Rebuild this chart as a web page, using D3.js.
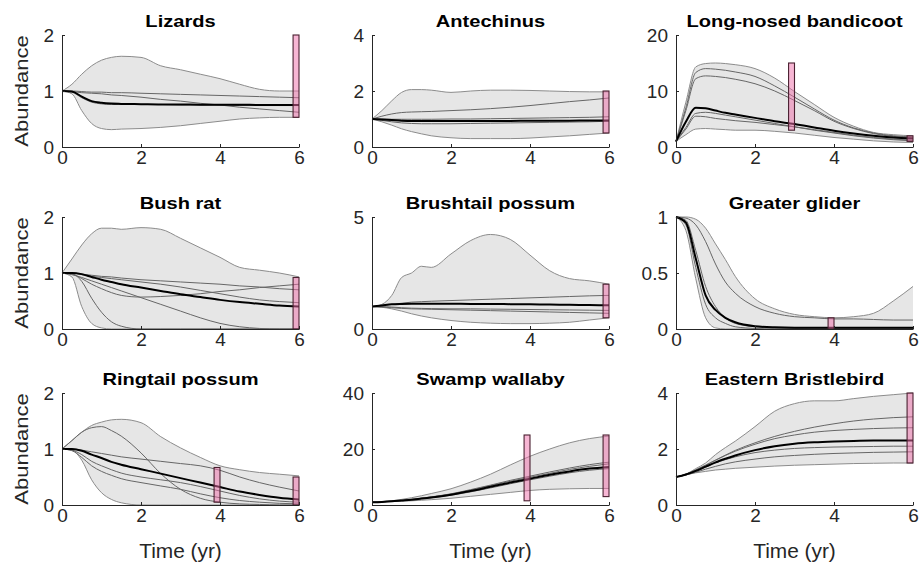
<!DOCTYPE html>
<html><head><meta charset="utf-8">
<script src="https://cdn.jsdelivr.net/npm/d3@7"></script>
<style>
body{margin:0;background:#fff}
svg text{font-family:"Liberation Sans",Arial,Helvetica,sans-serif}
</style>
</head><body><svg id="chart" width="919" height="565"></svg>
<script>
// ---------------- DATA ----------------
const years = [0, 0.25, 0.5, 0.75, 1, 1.25, 1.5, 2, 2.5, 3, 3.5, 4, 4.5, 5, 5.5, 6];
const panelTitles = ["Lizards","Antechinus","Long-nosed bandicoot","Bush rat","Brushtail possum","Greater glider","Ringtail possum","Swamp wallaby","Eastern Bristlebird"];
const yMaxima = [2, 4, 20, 2, 5, 1, 2, 40, 4];
const yTickValues = [[0,1,2],[0,2,4],[0,10,20],[0,1,2],[0,5],[0,0.5,1],[0,1,2],[0,20,40],[0,2,4]];
const xTickValues = [0, 2, 4, 6];
const yLabel = "Abundance";
const xLabel = "Time (yr)";

// Lizards
const lizUpper = [1,1.12,1.3,1.45,1.55,1.6,1.62,1.6,1.45,1.38,1.3,1.22,1.12,1.03,1.0,1.0];
const lizLower = [1,0.95,0.65,0.42,0.33,0.31,0.32,0.33,0.35,0.38,0.42,0.46,0.5,0.52,0.53,0.53];
const lizMean  = [1,0.99,0.9,0.82,0.79,0.775,0.77,0.765,0.76,0.76,0.755,0.755,0.755,0.75,0.75,0.75];
const lizRuns = [
  [1,1.0,0.99,0.98,0.98,0.97,0.97,0.96,0.95,0.94,0.93,0.92,0.91,0.9,0.89,0.88],
  [1,0.99,0.97,0.96,0.95,0.93,0.92,0.89,0.85,0.82,0.78,0.75,0.71,0.68,0.65,0.62],
  [1,0.98,0.88,0.8,0.77,0.76,0.76,0.76,0.76,0.75,0.75,0.75,0.74,0.74,0.74,0.74]
];
const lizBars = [[6, 0.53, 2.0]];

// Antechinus
const antUpper = [1,1.3,1.65,1.95,2.05,2.05,2.03,1.95,2.0,2.03,2.03,2.02,2.0,1.98,1.97,1.97];
const antLower = [1,0.9,0.78,0.65,0.55,0.47,0.4,0.33,0.3,0.3,0.3,0.32,0.36,0.4,0.45,0.5];
const antMean  = [1,0.98,0.96,0.94,0.93,0.93,0.93,0.93,0.93,0.93,0.93,0.94,0.94,0.94,0.95,0.95];
const antRuns = [
  [1,1.1,1.18,1.23,1.25,1.26,1.27,1.3,1.33,1.37,1.42,1.48,1.55,1.62,1.68,1.75],
  [1,0.95,0.9,0.86,0.84,0.83,0.83,0.83,0.84,0.85,0.86,0.87,0.88,0.89,0.9,0.92],
  [1,1.0,0.99,0.99,0.99,0.99,0.99,1.0,1.0,1.01,1.02,1.03,1.04,1.05,1.06,1.08]
];
const antBars = [[6, 0.5, 2.0]];

// Long-nosed bandicoot
const banUpper = [1,8,14.3,14.9,15,14.9,14.7,14.0,12.3,9.9,7.6,5.3,3.7,2.6,2.2,2.0];
const banLower = [1,2.2,3.2,3.3,3.2,3.1,3.0,3.0,2.8,2.5,2.1,1.7,1.4,1.1,0.9,0.8];
const banMean  = [1,4.5,7.0,6.9,6.5,6.1,5.8,5.2,4.6,4.1,3.5,2.9,2.4,2.0,1.7,1.5];
const banRuns = [
  [1,7,13.3,14.0,13.9,13.7,13.4,12.6,10.9,8.9,6.8,4.8,3.4,2.5,2.0,1.8],
  [1,6.5,12.2,12.7,12.6,12.4,12.1,11.3,10.0,8.3,6.5,4.6,3.3,2.4,1.9,1.7],
  [1,3.5,6.0,6.2,6.0,5.7,5.4,4.8,4.2,3.6,3.0,2.5,2.0,1.6,1.3,1.1],
  [1,3.2,5.5,5.4,5.1,4.9,4.7,4.4,4.0,3.6,3.1,2.6,2.1,1.7,1.4,1.2]
];
const banBars = [[3, 3, 15], [6, 1, 2]];

// Bush rat
const ratUpper = [1,1.25,1.5,1.7,1.8,1.8,1.78,1.81,1.78,1.62,1.45,1.28,1.1,1.05,1.0,0.93];
const ratLower = [1,0.93,0.4,0.1,0.02,0,0,0,0,0,0,0,0,0,0,0];
const ratMean  = [1,1.0,0.98,0.93,0.88,0.84,0.8,0.74,0.68,0.62,0.57,0.52,0.48,0.45,0.42,0.4];
const ratRuns = [
  [1,0.99,0.85,0.55,0.3,0.13,0.05,0,0,0,0,0,0,0,0,0],
  [1,0.98,0.9,0.8,0.72,0.65,0.6,0.57,0.58,0.6,0.63,0.67,0.7,0.74,0.77,0.8],
  [1,0.97,0.92,0.86,0.8,0.74,0.68,0.56,0.44,0.32,0.2,0.1,0.04,0.01,0,0],
  [1,1.0,0.98,0.96,0.94,0.93,0.91,0.88,0.86,0.84,0.82,0.8,0.77,0.75,0.72,0.7],
  [1,1.0,0.97,0.94,0.92,0.9,0.88,0.84,0.8,0.75,0.69,0.63,0.57,0.52,0.49,0.47]
];
const ratBars = [[6, 0, 0.92]];

// Brushtail possum
const bruUpper = [1,1.1,1.5,2.3,2.5,2.8,2.75,3.35,3.95,4.22,4.0,3.3,2.6,2.25,2.15,2.0];
const bruLower = [1,0.97,0.9,0.8,0.68,0.58,0.5,0.38,0.3,0.26,0.24,0.24,0.26,0.3,0.4,0.5];
const bruMean  = [1,1.05,1.1,1.12,1.13,1.13,1.13,1.13,1.12,1.12,1.11,1.1,1.09,1.08,1.07,1.06];
const bruRuns = [
  [1,1.05,1.1,1.15,1.2,1.22,1.24,1.27,1.3,1.33,1.36,1.39,1.42,1.45,1.48,1.5],
  [1,0.98,0.95,0.92,0.9,0.89,0.88,0.86,0.84,0.82,0.8,0.78,0.76,0.74,0.72,0.7],
  [1,1.0,0.98,0.95,0.93,0.92,0.91,0.9,0.9,0.89,0.88,0.87,0.86,0.85,0.84,0.83]
];
const bruBars = [[6, 0.5, 2.0]];

// Greater glider
const gliUpper = [1,1.0,0.98,0.9,0.76,0.62,0.47,0.27,0.18,0.13,0.11,0.1,0.11,0.14,0.25,0.38];
const gliLower = [1,0.88,0.45,0.1,0.01,0,0,0,0,0,0,0,0,0,0,0];
const gliMean  = [1,0.95,0.63,0.3,0.17,0.1,0.06,0.025,0.015,0.012,0.012,0.012,0.012,0.012,0.012,0.012];
const gliRuns = [
  [1,0.99,0.93,0.78,0.58,0.42,0.32,0.2,0.14,0.11,0.1,0.09,0.09,0.085,0.08,0.08],
  [1,0.93,0.55,0.22,0.1,0.05,0.02,0.005,0,0,0,0,0,0,0,0],
  [1,0.97,0.7,0.38,0.2,0.1,0.05,0.02,0.01,0.005,0,0,0,0,0,0]
];
const gliBars = [[4, 0, 0.1]];

// Ringtail possum
const rinUpper = [1,1.15,1.3,1.42,1.48,1.52,1.53,1.47,1.22,1.02,0.85,0.7,0.63,0.58,0.55,0.52];
const rinLower = [1,0.98,0.8,0.45,0.22,0.1,0.04,0,0,0,0,0,0,0,0,0];
const rinMean  = [1,1.0,0.97,0.9,0.84,0.77,0.72,0.64,0.56,0.48,0.4,0.32,0.24,0.18,0.13,0.1];
const rinRuns = [
  [1,1.15,1.3,1.38,1.4,1.33,1.23,0.93,0.56,0.28,0.12,0.05,0.02,0.01,0,0],
  [1,1.0,0.98,0.95,0.92,0.89,0.86,0.82,0.78,0.74,0.7,0.62,0.5,0.4,0.32,0.25],
  [1,0.98,0.9,0.78,0.7,0.63,0.57,0.5,0.45,0.4,0.33,0.25,0.17,0.11,0.07,0.05],
  [1,0.97,0.85,0.7,0.6,0.53,0.47,0.4,0.34,0.28,0.2,0.13,0.08,0.05,0.03,0.02]
];
const rinBars = [[4, 0.05, 0.67], [6, 0, 0.5]];

// Swamp wallaby
const walUpper = [1,1.2,1.5,2.0,2.6,3.3,4.1,5.8,8.2,11.0,14.3,17.4,20.0,22.2,23.7,24.6];
const walLower = [1,1.1,1.2,1.35,1.5,1.7,1.9,2.4,3.1,3.8,4.5,5.2,5.6,5.8,5.9,5.9];
const walMean  = [1,1.1,1.3,1.6,1.9,2.3,2.7,3.7,5.0,6.5,8.0,9.4,10.8,12.0,13.0,13.6];
const walRuns = [
  [1,1.1,1.35,1.65,2.0,2.4,2.9,4.0,5.5,7.1,8.8,10.3,11.8,13.2,14.4,15.3],
  [1,1.1,1.35,1.65,2.0,2.4,2.85,3.9,5.3,6.9,8.5,9.9,11.3,12.7,13.8,14.7],
  [1,1.1,1.3,1.55,1.85,2.2,2.6,3.5,4.7,6.1,7.6,9.0,10.3,11.5,12.4,13.0]
];
const walBars = [[4, 1.5, 25], [6, 3, 25]];

// Eastern Bristlebird
const briUpper = [1,1.1,1.3,1.5,1.8,2.05,2.28,2.8,3.35,3.62,3.72,3.72,3.8,3.88,3.94,4.0];
const briLower = [1,1.08,1.15,1.2,1.25,1.28,1.31,1.35,1.39,1.42,1.44,1.46,1.48,1.49,1.5,1.5];
const briMean  = [1,1.09,1.22,1.37,1.52,1.65,1.77,1.96,2.1,2.19,2.24,2.27,2.29,2.3,2.3,2.3];
const briRuns = [
  [1,1.1,1.25,1.42,1.6,1.78,1.95,2.22,2.45,2.63,2.78,2.9,3.0,3.07,3.12,3.15],
  [1,1.1,1.25,1.42,1.6,1.77,1.92,2.17,2.37,2.5,2.6,2.66,2.7,2.73,2.75,2.76],
  [1,1.08,1.2,1.35,1.5,1.62,1.72,1.87,1.96,2.02,2.05,2.07,2.08,2.09,2.1,2.1],
  [1,1.07,1.17,1.28,1.38,1.47,1.54,1.64,1.72,1.77,1.81,1.84,1.86,1.88,1.89,1.9]
];
const briBars = [[6, 1.5, 4.0]];

// build panel table from the arrays above
const uppers = [lizUpper, antUpper, banUpper, ratUpper, bruUpper, gliUpper, rinUpper, walUpper, briUpper];
const lowers = [lizLower, antLower, banLower, ratLower, bruLower, gliLower, rinLower, walLower, briLower];
const means  = [lizMean, antMean, banMean, ratMean, bruMean, gliMean, rinMean, walMean, briMean];
const runs   = [lizRuns, antRuns, banRuns, ratRuns, bruRuns, gliRuns, rinRuns, walRuns, briRuns];
const bars   = [lizBars, antBars, banBars, ratBars, bruBars, gliBars, rinBars, walBars, briBars];

// ---------------- LAYOUT ----------------
const colLeft = [62, 372, 676];
const plotW = 237;
const rowTop = [35, 217, 393];
const plotH = 112;
const axisColor = "#262626";

const svg = d3.select("#chart");

panelTitles.forEach((title, i) => {
  const col = i % 3, row = Math.floor(i / 3);
  const x0 = colLeft[col], y0 = rowTop[row];
  const g = svg.append("g").attr("transform", `translate(${x0},${y0})`);
  const x = d3.scaleLinear().domain([0, 6]).range([0, plotW]);
  const y = d3.scaleLinear().domain([0, yMaxima[i]]).range([plotH, 0]);

  const pts = (arr) => years.map((t, k) => [t, arr[k]]);

  const area = d3.area().x(d => x(d.t)).y0(d => y(d.lo)).y1(d => y(d.hi)).curve(d3.curveMonotoneX);
  const line = d3.line().x(d => x(d[0])).y(d => y(d[1])).curve(d3.curveMonotoneX);

  const env = years.map((t, k) => ({t, lo: lowers[i][k], hi: uppers[i][k]}));
  g.append("path").datum(env).attr("d", area).attr("fill", "#e6e6e6").attr("stroke", "none");
  g.append("path").datum(pts(uppers[i])).attr("d", line).attr("fill", "none").attr("stroke", "#8c8c8c").attr("stroke-width", 1);
  g.append("path").datum(pts(lowers[i])).attr("d", line).attr("fill", "none").attr("stroke", "#8c8c8c").attr("stroke-width", 1);

  runs[i].forEach(r => {
    g.append("path").datum(pts(r)).attr("d", line).attr("fill", "none").attr("stroke", "#666").attr("stroke-width", 1);
  });

  g.append("path").datum(pts(means[i])).attr("d", line).attr("fill", "none").attr("stroke", "#000").attr("stroke-width", 2);

  bars[i].forEach(b => {
    g.append("rect")
      .attr("x", x(b[0] - 0.15)).attr("width", x(b[0]) - x(b[0] - 0.15))
      .attr("y", y(b[2])).attr("height", y(b[1]) - y(b[2]))
      .attr("fill", "#f06ea9").attr("fill-opacity", 0.5)
      .attr("stroke", "#4a2030").attr("stroke-width", 1.1);
  });

  // axes
  const ax = g.append("g").attr("transform", `translate(0,${plotH})`)
    .call(d3.axisBottom(x).tickValues(xTickValues).tickFormat(d3.format("d")).tickSizeInner(-3).tickSizeOuter(0).tickPadding(3));
  const ay = g.append("g")
    .call(d3.axisLeft(y).tickValues(yTickValues[i]).tickFormat(d => String(d)).tickSizeInner(-3).tickSizeOuter(0).tickPadding(8));
  [ax, ay].forEach(a => {
    a.attr("font-family", null).attr("font-size", null);
    a.select(".domain").attr("stroke", axisColor).attr("stroke-width", 1);
    a.selectAll(".tick line").attr("stroke", axisColor);
    a.selectAll(".tick text").attr("fill", axisColor).style("font-size", "19px")
      .style("font-family", '"Liberation Sans",Arial,sans-serif');
  });

  // title
  const tt = g.append("text").attr("x", plotW / 2).attr("y", -8).attr("text-anchor", "middle")
    .style("font-size", "17px").style("font-weight", "bold").attr("fill", "#000").text(title);
  tt.attr("textLength", tt.node().getComputedTextLength() * 1.18).attr("lengthAdjust", "spacingAndGlyphs");

  if (col === 0) {
    const yl = g.append("text").attr("transform", `translate(${28 - x0},${plotH / 2}) rotate(-90)`)
      .attr("text-anchor", "middle").style("font-size", "19px").attr("fill", axisColor).text(yLabel);
    yl.attr("textLength", yl.node().getComputedTextLength() * 1.16).attr("lengthAdjust", "spacingAndGlyphs");
  }
  if (row === 2) {
    const xl = g.append("text").attr("x", plotW / 2).attr("y", 558 - y0).attr("text-anchor", "middle")
      .style("font-size", "19.5px").attr("fill", axisColor).text(xLabel);
    xl.attr("textLength", xl.node().getComputedTextLength() * 1.07).attr("lengthAdjust", "spacingAndGlyphs");
  }
});
</script>
</body></html>
